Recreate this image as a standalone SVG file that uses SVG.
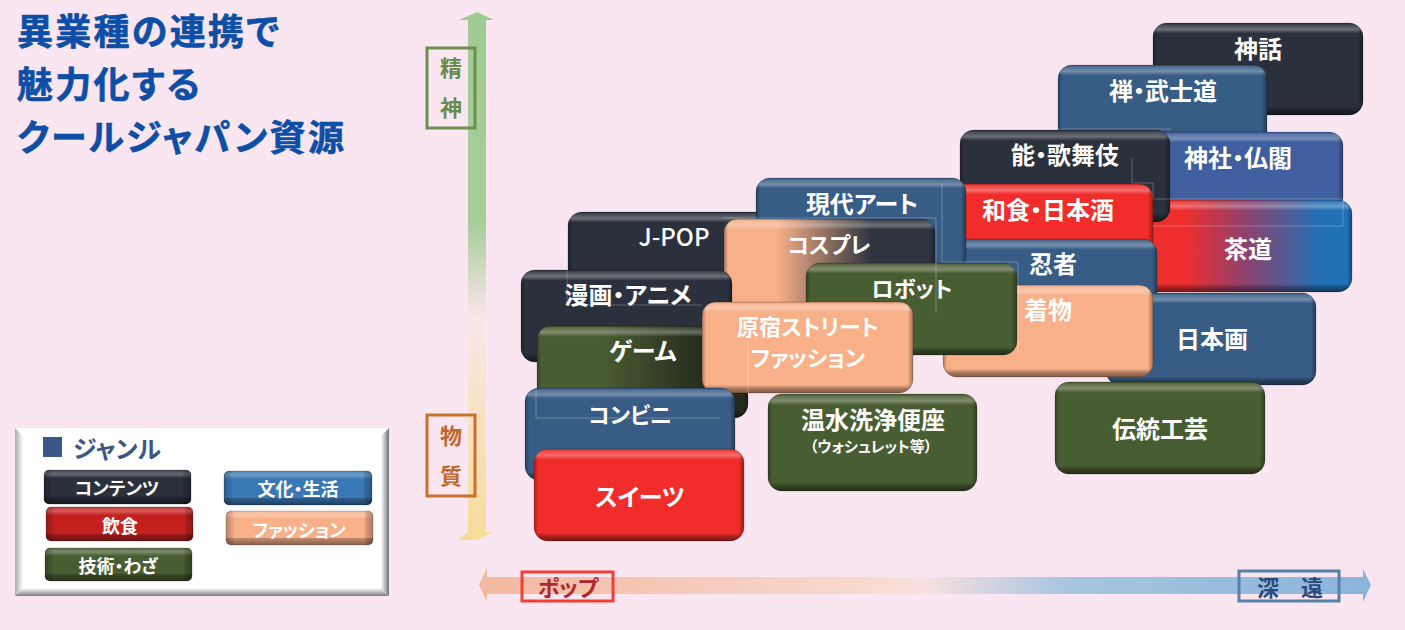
<svg xmlns="http://www.w3.org/2000/svg" width="1405" height="630" viewBox="0 0 1405 630">
<style>
text{font-family:"Noto Sans CJK JP","Noto Sans",sans-serif;font-weight:700;font-feature-settings:"palt";text-anchor:middle;dominant-baseline:central;transform:translateY(-4px)}
.t{fill:#fff;font-size:24px}
.k{fill:#fff;font-size:22px}
.l{fill:#fff;font-size:18px}
.title{fill:#0d4ea6;font-size:36px;text-anchor:start;dominant-baseline:auto;letter-spacing:2.3px;stroke:#0d4ea6;stroke-width:.6px;transform:translateY(-2px)}
.ax{font-size:22px}
.dark{fill:#2a303c}.blue{fill:#375c85}.shrine{fill:#3f5f9e}.red{fill:#f02d2a}.green{fill:#495d32}.peach{fill:#f8b088}
.v{fill:url(#bv)}.h{fill:url(#bh);stroke:#000;stroke-opacity:.18}
.lv{fill:url(#lbv)}.lh{fill:url(#lbh);stroke:#000;stroke-opacity:.2}
.box{fill:none;stroke-width:3}
.faint{fill:none;stroke:#fff;stroke-opacity:.25;stroke-width:1}
</style>
<defs>
<linearGradient id="bv" x1="0" y1="0" x2="0" y2="1">
<stop offset="0" stop-color="#000" stop-opacity=".15"/><stop offset=".025" stop-color="#fff" stop-opacity=".14"/><stop offset=".07" stop-color="#fff" stop-opacity=".3"/><stop offset=".115" stop-color="#fff" stop-opacity="0"/><stop offset=".91" stop-color="#000" stop-opacity="0"/><stop offset=".95" stop-color="#000" stop-opacity=".3"/><stop offset="1" stop-color="#000" stop-opacity=".5"/>
</linearGradient>
<linearGradient id="bh" x1="0" y1="0" x2="1" y2="0">
<stop offset="0" stop-color="#000" stop-opacity=".3"/><stop offset=".02" stop-color="#000" stop-opacity="0"/><stop offset=".975" stop-color="#000" stop-opacity="0"/><stop offset="1" stop-color="#000" stop-opacity=".35"/>
</linearGradient>
<linearGradient id="lbv" x1="0" y1="0" x2="0" y2="1">
<stop offset="0" stop-color="#fff" stop-opacity=".1"/><stop offset=".12" stop-color="#fff" stop-opacity=".28"/><stop offset=".24" stop-color="#fff" stop-opacity="0"/><stop offset=".78" stop-color="#000" stop-opacity="0"/><stop offset=".8" stop-color="#000" stop-opacity=".22"/><stop offset="1" stop-color="#000" stop-opacity=".45"/>
</linearGradient>
<linearGradient id="lbh" x1="0" y1="0" x2="1" y2="0">
<stop offset="0" stop-color="#000" stop-opacity=".25"/><stop offset=".05" stop-color="#000" stop-opacity=".06"/><stop offset=".055" stop-color="#000" stop-opacity="0"/><stop offset=".945" stop-color="#000" stop-opacity="0"/><stop offset=".95" stop-color="#000" stop-opacity=".12"/><stop offset="1" stop-color="#000" stop-opacity=".3"/>
</linearGradient>
<linearGradient id="tea" x1="0" y1="0" x2="1" y2="0"><stop offset=".2" stop-color="#ee2e2c"/><stop offset=".5" stop-color="#8c4270"/><stop offset=".85" stop-color="#2171b5"/></linearGradient>
<linearGradient id="cos" x1="0" y1="0" x2="1" y2="0"><stop offset=".25" stop-color="#f8b088"/><stop offset=".7" stop-color="#2e3440"/></linearGradient>
<linearGradient id="game" x1="0" y1="0" x2="1" y2="0"><stop offset=".3" stop-color="#495d32"/><stop offset=".8" stop-color="#262b1d"/></linearGradient>
<linearGradient id="vaxis" x1="0" y1="0" x2="0" y2="1"><stop offset="0" stop-color="#9fcb93"/><stop offset=".4" stop-color="#a8cd9c"/><stop offset=".58" stop-color="#fae6e8"/><stop offset="1" stop-color="#f6dc98"/></linearGradient>
<linearGradient id="haxis" x1="0" y1="0" x2="1" y2="0"><stop offset="0" stop-color="#f3b8a0"/><stop offset=".42" stop-color="#f8d8cc"/><stop offset=".5" stop-color="#f8e0e0"/><stop offset=".66" stop-color="#a8c5e0"/><stop offset="1" stop-color="#8ab3dc"/></linearGradient>
<linearGradient id="lgR" x1="0" y1="0" x2="1" y2="0"><stop offset="0" stop-color="#fff"/><stop offset="1" stop-color="#6e6e78"/></linearGradient>
<linearGradient id="lgB" x1="0" y1="0" x2="0" y2="1"><stop offset="0" stop-color="#fff"/><stop offset="1" stop-color="#7c7c86"/></linearGradient>
<linearGradient id="lgL" x1="0" y1="0" x2="1" y2="0"><stop offset="0" stop-color="#a8a8b0"/><stop offset="1" stop-color="#fff"/></linearGradient>
</defs>
<rect width="1405" height="630" fill="#fae6f1"/>
<g id="title">
<text class="title" x="17" y="47">異業種の連携で</text>
<text class="title" x="17" y="100">魅力化する</text>
<text class="title" x="17" y="153">クールジャパン資源</text>
</g>
<g id="connectors">
<path d="M468 540V20H459L477 12L494 20H486V532H493L477 540H458L468 532Z" fill="url(#vaxis)"/>
<path d="M479 585L487 568V577H1363V569L1371 585L1363 602V594H487V602Z" fill="url(#haxis)"/>
</g>
<g id="axis-spirit"><rect class="box" x="427" y="48" width="48" height="80" stroke="#6c8f4f"/><text class="ax" x="451" y="70" fill="#6a8c4a">精</text><text class="ax" x="451" y="110" fill="#6a8c4a">神</text></g>
<g id="axis-matter"><rect class="box" x="427" y="415" width="48" height="81" stroke="#c8702f"/><text class="ax" x="451" y="438" fill="#c0682c">物</text><text class="ax" x="451" y="478" fill="#c0682c">質</text></g>
<g id="axis-pop"><rect class="box" x="522" y="572" width="91" height="29" stroke="#ee4035"/><text class="ax" x="568" y="590" fill="#b0282c">ポップ</text></g>
<g id="axis-deep"><rect class="box" x="1239" y="571" width="100" height="30" stroke="#5680a6"/><text class="ax" x="1290" y="590" fill="#2f4a7c">深　遠</text></g>

<g id="n-shinwa"><rect class="dark" x="1153" y="23" width="210" height="92" rx="14"/><rect class="v" x="1153" y="23" width="210" height="92" rx="14"/><rect class="h" x="1153" y="23" width="210" height="92" rx="14"/><text class="t" x="1258" y="51">神話</text></g>
<g id="n-zen"><rect class="blue" x="1058" y="65" width="209" height="92" rx="14"/><rect class="v" x="1058" y="65" width="209" height="92" rx="14"/><rect class="h" x="1058" y="65" width="209" height="92" rx="14"/><text class="t" x="1163" y="93">禅・武士道</text></g>
<g id="n-jinja"><rect class="shrine" x="1133" y="132" width="210" height="92" rx="14"/><rect class="v" x="1133" y="132" width="210" height="92" rx="14"/><rect class="h" x="1133" y="132" width="210" height="92" rx="14"/><text class="t" x="1238" y="160">神社・仏閣</text></g>
<g id="n-sado"><rect fill="url(#tea)" x="1142" y="200" width="210" height="92" rx="14"/><rect class="v" x="1142" y="200" width="210" height="92" rx="14"/><rect class="h" x="1142" y="200" width="210" height="92" rx="14"/><text class="t" x="1248" y="251">茶道</text></g>
<g id="n-noh"><rect class="dark" x="960" y="130" width="210" height="92" rx="14"/><rect class="v" x="960" y="130" width="210" height="92" rx="14"/><rect class="h" x="960" y="130" width="210" height="92" rx="14"/><text class="t" x="1065" y="157">能・歌舞伎</text></g>
<g id="n-washoku"><rect class="red" x="943" y="184" width="210" height="92" rx="14"/><rect class="v" x="943" y="184" width="210" height="92" rx="14"/><rect class="h" x="943" y="184" width="210" height="92" rx="14"/><text class="t" x="1048" y="212">和食・日本酒</text></g>
<g id="n-ninja"><rect class="blue" x="947" y="239" width="210" height="92" rx="14"/><rect class="v" x="947" y="239" width="210" height="92" rx="14"/><rect class="h" x="947" y="239" width="210" height="92" rx="14"/><text class="t" x="1053" y="266">忍者</text></g>
<g id="n-nihonga"><rect class="blue" x="1106" y="293" width="210" height="92" rx="14"/><rect class="v" x="1106" y="293" width="210" height="92" rx="14"/><rect class="h" x="1106" y="293" width="210" height="92" rx="14"/><text class="t" x="1212" y="341">日本画</text></g>
<g id="n-kimono"><rect class="peach" x="943" y="285" width="210" height="92" rx="14"/><rect class="v" x="943" y="285" width="210" height="92" rx="14"/><rect class="h" x="943" y="285" width="210" height="92" rx="14"/><text class="t" x="1048" y="312">着物</text></g>
<g id="n-jpop"><rect class="dark" x="568" y="212" width="210" height="92" rx="14"/><rect class="v" x="568" y="212" width="210" height="92" rx="14"/><rect class="h" x="568" y="212" width="210" height="92" rx="14"/><text class="t" x="674" y="239" style="font-weight:500">J-POP</text></g>
<g id="n-gendai"><rect class="blue" x="756" y="178" width="210" height="92" rx="14"/><rect class="v" x="756" y="178" width="210" height="92" rx="14"/><rect class="h" x="756" y="178" width="210" height="92" rx="14"/><text class="t" x="862" y="206">現代アート</text></g>
<g id="n-cosplay"><rect fill="url(#cos)" x="724" y="219" width="211" height="92" rx="14"/><rect class="v" x="724" y="219" width="211" height="92" rx="14"/><rect class="h" x="724" y="219" width="211" height="92" rx="14"/><text class="k" x="829" y="247">コスプレ</text></g>
<g id="n-robot"><rect class="green" x="806" y="263" width="211" height="92" rx="14"/><rect class="v" x="806" y="263" width="211" height="92" rx="14"/><rect class="h" x="806" y="263" width="211" height="92" rx="14"/><text class="k" x="912" y="291">ロボット</text></g>
<g id="n-manga"><rect class="dark" x="521" y="270" width="211" height="92" rx="14"/><rect class="v" x="521" y="270" width="211" height="92" rx="14"/><rect class="h" x="521" y="270" width="211" height="92" rx="14"/><text class="t" x="628" y="297">漫画・アニメ</text></g>
<g id="n-game"><rect fill="url(#game)" x="537" y="326" width="211" height="92" rx="14"/><rect class="v" x="537" y="326" width="211" height="92" rx="14"/><rect class="h" x="537" y="326" width="211" height="92" rx="14"/><text class="t" x="643" y="353">ゲーム</text></g>
<g id="n-harajuku"><rect class="peach" x="702" y="302" width="211" height="91" rx="14"/><rect class="v" x="702" y="302" width="211" height="91" rx="14"/><rect class="h" x="702" y="302" width="211" height="91" rx="14"/><text class="k" x="808" y="329">原宿ストリート</text><text class="k" x="808" y="360">ファッション</text></g>
<g id="n-konbini"><rect class="blue" x="525" y="388" width="210" height="92" rx="14"/><rect class="v" x="525" y="388" width="210" height="92" rx="14"/><rect class="h" x="525" y="388" width="210" height="92" rx="14"/><text class="k" x="630" y="417">コンビニ</text></g>
<g id="n-sweets"><rect class="red" x="534" y="449" width="210" height="92" rx="14"/><rect class="v" x="534" y="449" width="210" height="92" rx="14"/><rect class="h" x="534" y="449" width="210" height="92" rx="14"/><text class="t" x="640" y="499">スイーツ</text></g>
<g id="n-washlet"><rect class="green" x="768" y="394" width="209" height="97" rx="14"/><rect class="v" x="768" y="394" width="209" height="97" rx="14"/><rect class="h" x="768" y="394" width="209" height="97" rx="14"/><text class="t" x="873" y="422">温水洗浄便座</text><text class="t" x="871" y="449" style="font-size:15px">（ウォシュレット等）</text></g>
<g id="n-kogei"><rect class="green" x="1055" y="382" width="210" height="92" rx="14"/><rect class="v" x="1055" y="382" width="210" height="92" rx="14"/><rect class="h" x="1055" y="382" width="210" height="92" rx="14"/><text class="t" x="1160" y="431">伝統工芸</text></g>
<path class="faint" d="M1153 199H1343V226H1153M1056 129H1171M1132 158V183H1153V198M942 183V262H1018V355M723 218H936V313M567 268V305H702M748 340V394M536 390V418H720"/>

<g id="legend">
<rect x="15" y="428" width="374" height="168" fill="#fff"/>
<polygon points="389,428 389,596 381,588 381,436" fill="url(#lgR)"/>
<polygon points="15,596 389,596 381,588 23,588" fill="url(#lgB)"/>
<polygon points="15,428 23,436 23,588 15,596" fill="url(#lgL)"/>
<rect x="43" y="437" width="19" height="20" fill="#3b5586"/>
<text x="117" y="451" fill="#3b5586" style="font-size:24px">ジャンル</text>
<g id="l-content"><rect class="dark" x="44" y="470" width="147" height="34" rx="5"/><rect class="lv" x="44" y="470" width="147" height="34" rx="5"/><rect class="lh" x="44" y="470" width="147" height="34" rx="5"/><text class="l" x="117" y="491">コンテンツ</text></g>
<g id="l-food"><rect fill="#c4201f" x="46" y="507" width="147" height="34" rx="5"/><rect class="lv" x="46" y="507" width="147" height="34" rx="5"/><rect class="lh" x="46" y="507" width="147" height="34" rx="5"/><text class="l" x="120" y="529">飲食</text></g>
<g id="l-tech"><rect class="green" x="45" y="548" width="147" height="33" rx="5"/><rect class="lv" x="45" y="548" width="147" height="33" rx="5"/><rect class="lh" x="45" y="548" width="147" height="33" rx="5"/><text class="l" x="118" y="569">技術・わざ</text></g>
<g id="l-culture"><rect fill="#3a78b5" x="224" y="471" width="148" height="34" rx="5"/><rect class="lv" x="224" y="471" width="148" height="34" rx="5"/><rect class="lh" x="224" y="471" width="148" height="34" rx="5"/><text class="l" x="298" y="492">文化・生活</text></g>
<g id="l-fashion"><rect class="peach" x="226" y="511" width="147" height="34" rx="5"/><rect class="lv" x="226" y="511" width="147" height="34" rx="5"/><rect class="lh" x="226" y="511" width="147" height="34" rx="5"/><text class="l" x="299" y="533">ファッション</text></g>
</g>
</svg>
